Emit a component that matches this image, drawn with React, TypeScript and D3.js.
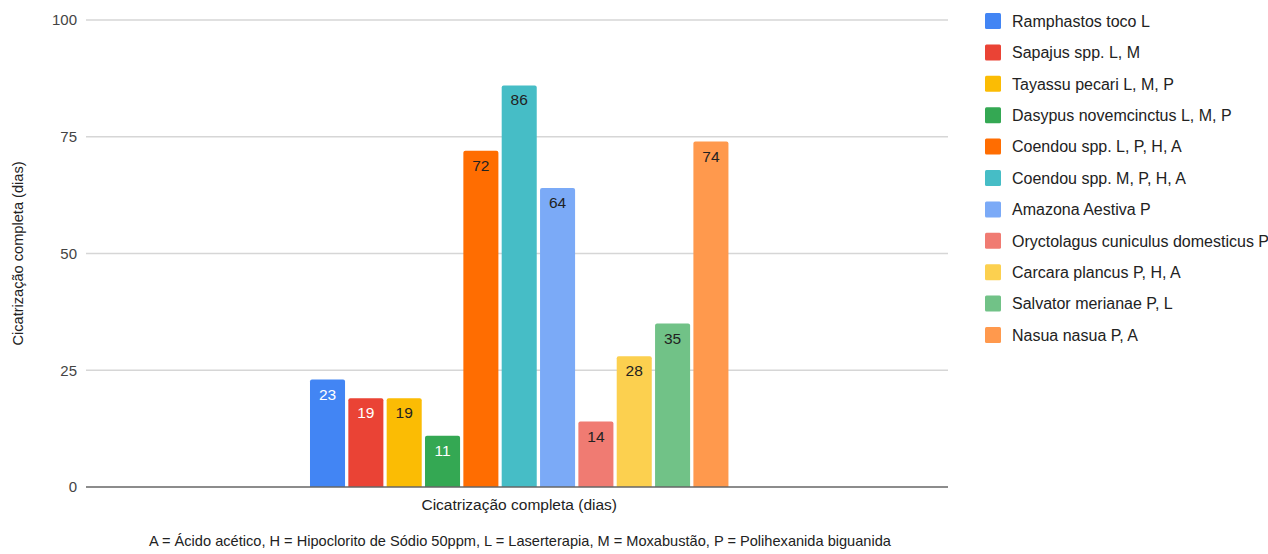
import React from "react";
import * as d3 from "d3";

const categories = ["Cicatrização completa (dias)"];
const seriesNames = [
  "Ramphastos toco L",
  "Sapajus spp. L, M",
  "Tayassu pecari L, M, P",
  "Dasypus novemcinctus L, M, P",
  "Coendou spp. L, P, H, A",
  "Coendou spp. M, P, H, A",
  "Amazona Aestiva P",
  "Oryctolagus cuniculus domesticus P",
  "Carcara plancus P, H, A",
  "Salvator merianae P, L",
  "Nasua nasua P, A",
];
const seriesValues = [23, 19, 19, 11, 72, 86, 64, 14, 28, 35, 74];
const seriesColors = [
  "#4285F4", "#EA4335", "#FBBC04", "#34A853", "#FF6D01", "#46BDC6",
  "#7BAAF7", "#F07B72", "#FCD04F", "#71C287", "#FF994D",
];
const labelColors = [
  "#ffffff", "#ffffff", "#222222", "#ffffff", "#222222", "#222222",
  "#222222", "#222222", "#222222", "#222222", "#222222",
];
const yTicks = [0, 25, 50, 75, 100];
const footnote =
  "A = Ácido acético, H = Hipoclorito de Sódio 50ppm, L = Laserterapia, M = Moxabustão, P = Polihexanida biguanida";
const yTitle = "Cicatrização completa (dias)";

const W = 1268;
const H = 554;
const FONT = "'Liberation Sans', Arial, sans-serif";

export default function App() {
  const left = 86, right = 948, top = 20, bottom = 487;
  const y = d3.scaleLinear().domain([0, 100]).range([bottom, top]);
  const x0 = d3
    .scaleBand()
    .domain(categories)
    .range([left, right])
    .paddingInner(0)
    .paddingOuter(0.53)
    .align(0.505);
  const x1 = d3
    .scaleBand()
    .domain(seriesNames)
    .range([0, x0.bandwidth()])
    .paddingInner(0.086)
    .paddingOuter(0);

  return (
    <svg width={W} height={H} style={{ position: "absolute", left: 0, top: 0, background: "#fff" }}>
      <rect x={0} y={0} width={W} height={H} fill="#fff" />
      {yTicks.map((t) => (
        <g key={t}>
          {t !== 0 && (
            <line x1={left} x2={right} y1={y(t)} y2={y(t)} stroke="#d6d6d6" strokeWidth={1.3} />
          )}
          <text x={77} y={y(t)} dy="0.36em" textAnchor="end" fontFamily={FONT} fontSize={15} fill="#444">
            {t}
          </text>
        </g>
      ))}
      {categories.map((c) => (
        <g key={c} transform={`translate(${x0(c)},0)`}>
          {seriesNames.map((s, i) => {
            const v = seriesValues[i];
            const bx = x1(s)!;
            const bw = x1.bandwidth();
            return (
              <g key={s}>
                <path
                  d={`M${bx},${bottom} V${y(v) + 2} Q${bx},${y(v)} ${bx + 2},${y(v)} H${bx + bw - 2} Q${bx + bw},${y(v)} ${bx + bw},${y(v) + 2} V${bottom} Z`}
                  fill={seriesColors[i]}
                />
                <text
                  x={bx + bw / 2}
                  y={y(v) + 14.5}
                  dy="0.36em"
                  textAnchor="middle"
                  fontFamily={FONT}
                  fontSize={15.5}
                  fill={labelColors[i]}
                >
                  {v}
                </text>
              </g>
            );
          })}
          <text
            x={x0.bandwidth() / 2}
            y={504}
            dy="0.36em"
            textAnchor="middle"
            fontFamily={FONT}
            fontSize={15.5}
            fill="#222"
          >
            {c}
          </text>
        </g>
      ))}
      <line x1={left} x2={right} y1={bottom} y2={bottom} stroke="#666" strokeWidth={1.5} />
      <text
        transform={`translate(18,${(top + bottom) / 2}) rotate(-90)`}
        dy="0.36em"
        textAnchor="middle"
        fontFamily={FONT}
        fontSize={14.6}
        fill="#222"
      >
        {yTitle}
      </text>
      {seriesNames.map((s, i) => {
        const ly = 21 + i * 31.4;
        return (
          <g key={s}>
            <rect x={985} y={ly - 8} width={16} height={16} rx={1.5} fill={seriesColors[i]} />
            <text x={1012} y={ly} dy="0.36em" fontFamily={FONT} fontSize={16} fill="#222">
              {s}
            </text>
          </g>
        );
      })}
      <text x={520} y={541} dy="0.36em" textAnchor="middle" fontFamily={FONT} fontSize={14.6} fill="#222">
        {footnote}
      </text>
    </svg>
  );
}
